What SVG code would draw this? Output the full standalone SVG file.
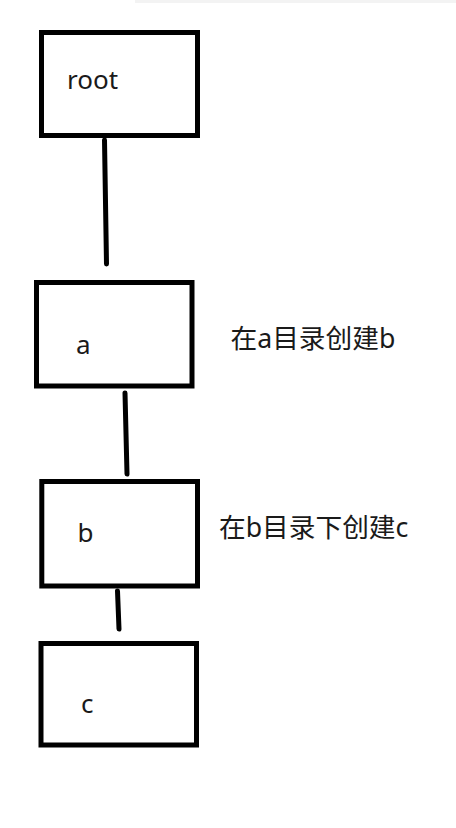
<svg xmlns="http://www.w3.org/2000/svg" width="456" height="828" viewBox="0 0 456 828">
<style>
.box{fill:#fff;stroke:#000;stroke-width:5}
.lbl{font-family:"Noto Sans","Noto Sans CJK SC",sans-serif;font-size:26px;fill:#1a1a1a}
.note{font-size:26.7px}
.con{stroke:#000;stroke-width:5;stroke-linecap:round;fill:none}
</style>
<rect width="456" height="828" fill="#fff"/>
<rect x="135" y="0" width="321" height="3" fill="#f3f3f3"/>
<g id="connectors">
<line class="con" x1="104.5" y1="140" x2="106.5" y2="264"/>
<line class="con" x1="125" y1="393" x2="127" y2="474"/>
<line class="con" x1="117.5" y1="591" x2="119" y2="629"/>
</g>
<g id="root">
<rect class="box" x="41.5" y="32.5" width="156" height="103"/>
<text class="lbl" x="67" y="89">root</text>
</g>
<g id="a">
<rect class="box" x="36.5" y="282.5" width="155.5" height="103.5"/>
<text class="lbl" x="76" y="354">a</text>
</g>
<g id="b">
<rect class="box" x="41.8" y="481.5" width="155.7" height="104.5"/>
<text class="lbl" x="77.5" y="541.5">b</text>
</g>
<g id="c">
<rect class="box" x="41" y="643.5" width="155.5" height="101.5"/>
<text class="lbl" x="81" y="712.5">c</text>
</g>
<g id="note1">
<text class="lbl note" x="230.5" y="348">在a目录创建b</text>
</g>
<g id="note2">
<text class="lbl note" x="219" y="537">在b目录下创建c</text>
</g>
</svg>
